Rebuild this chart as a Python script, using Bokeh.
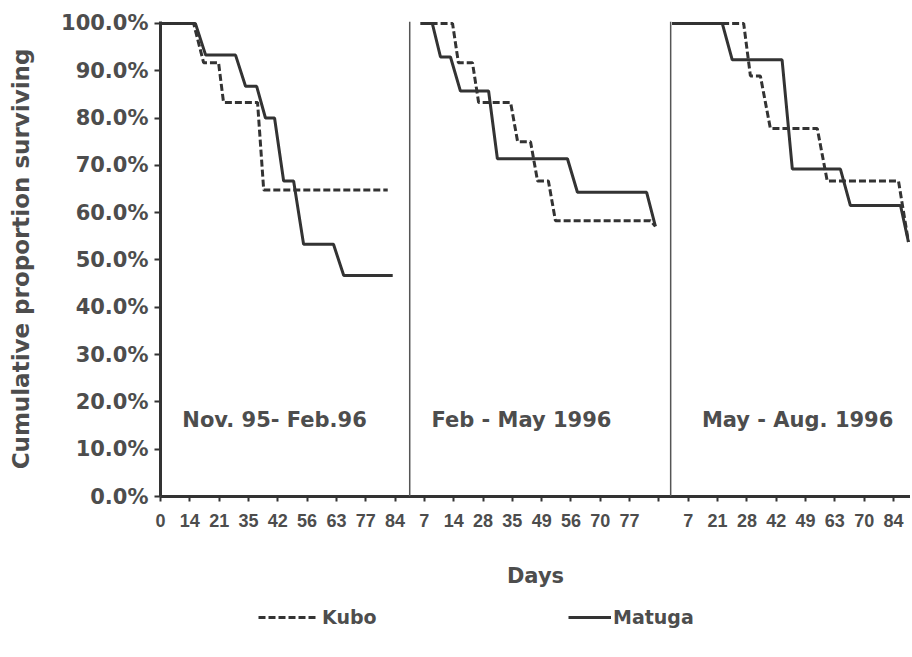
from bokeh.plotting import figure
from bokeh.layouts import column
from bokeh.models import (Range1d, FixedTicker, Label, Legend, LegendItem, Span)
from bokeh.embed import file_html
from bokeh.resources import INLINE

# ---------------- data (x in category-axis positions, y in %) ----------------
x_tick_labels = ["0", "14", "21", "35", "42", "56", "63", "77", "84",
                 "7", "14", "28", "35", "49", "56", "70", "77", "",
                 "7", "21", "28", "42", "49", "63", "70", "84"]
y_ticks = [0, 10, 20, 30, 40, 50, 60, 70, 80, 90, 100]
y_tick_labels = ["0.0%", "10.0%", "20.0%", "30.0%", "40.0%", "50.0%",
                 "60.0%", "70.0%", "80.0%", "90.0%", "100.0%"]

panel_titles = ["Nov. 95- Feb.96", "Feb - May 1996", "May - Aug. 1996"]
panel_title_x = [3.89, 12.31, 21.73]
panel_title_y = [16.1, 16.1, 16.1]
panel_breaks = [8.5, 17.4]

# Panel 1 (Nov. 95 - Feb. 96)
matuga1_x = [0, 1.19, 1.54, 2.56, 2.90, 3.28, 3.58, 3.89, 4.20, 4.54, 4.88, 5.90, 6.25, 7.92]
matuga1_y = [100, 100, 93.3, 93.3, 86.7, 86.7, 80.0, 80.0, 66.7, 66.7, 53.3, 53.3, 46.7, 46.7]
kubo1_x = [0, 1.13, 1.47, 1.98, 2.15, 3.31, 3.52, 7.75]
kubo1_y = [100, 100, 91.7, 91.7, 83.3, 83.3, 64.8, 64.8]

# Panel 2 (Feb - May 1996)
matuga2_x = [8.87, 9.27, 9.55, 9.89, 10.23, 11.19, 11.49, 13.88, 14.22, 16.58, 16.88]
matuga2_y = [100, 100, 92.9, 92.9, 85.7, 85.7, 71.4, 71.4, 64.3, 64.3, 57.1]
kubo2_x = [8.87, 9.96, 10.16, 10.64, 10.85, 11.94, 12.18, 12.62, 12.86, 13.23, 13.47, 16.71, 16.88]
kubo2_y = [100, 100, 91.7, 91.7, 83.3, 83.3, 75.0, 75.0, 66.7, 66.7, 58.3, 58.3, 57.1]

# Panel 3 (May - Aug. 1996)
matuga3_x = [17.45, 19.16, 19.50, 21.20, 21.55, 23.19, 23.53, 25.24, 25.51]
matuga3_y = [100, 100, 92.3, 92.3, 69.2, 69.2, 61.5, 61.5, 53.8]
kubo3_x = [17.45, 19.89, 20.12, 20.46, 20.80, 22.40, 22.74, 25.17, 25.51]
kubo3_y = [100, 100, 88.9, 88.9, 77.8, 77.8, 66.7, 66.7, 53.8]

series = [("Matuga", [(matuga1_x, matuga1_y), (matuga2_x, matuga2_y), (matuga3_x, matuga3_y)]),
          ("Kubo", [(kubo1_x, kubo1_y), (kubo2_x, kubo2_y), (kubo3_x, kubo3_y)])]

# ---------------- styling ----------------
TEXT = "#4d4d4d"
LINE = "#333333"
WIDE = "DejaVu Sans"
ARIAL = "Liberation Sans"
KUBO_DASH = "7 3"

p = figure(width=910, height=600, output_backend="svg", toolbar_location=None,
           x_range=Range1d(0, 25.58), y_range=Range1d(0, 100.4),
           min_border_left=160, min_border_right=0, min_border_top=21,
           min_border_bottom=104)
p.outline_line_color = None
p.xgrid.grid_line_color = None
p.ygrid.grid_line_color = None
p.background_fill_color = "white"
p.border_fill_color = "white"

# y axis
ya = p.yaxis[0]
ya.ticker = FixedTicker(ticks=y_ticks)
ya.major_label_overrides = {t: l for t, l in zip(y_ticks, y_tick_labels)}
ya.minor_tick_line_color = None
ya.major_tick_in = 0
ya.major_tick_out = 6
ya.major_tick_line_width = 2
ya.major_tick_line_color = LINE
ya.axis_line_width = 3
ya.axis_line_color = LINE
ya.major_label_standoff = 6
ya.major_label_text_font = WIDE
ya.major_label_text_font_style = "bold"
ya.major_label_text_font_size = "21px"
ya.major_label_text_color = TEXT
ya.axis_label = "Cumulative proportion surviving"
ya.axis_label_text_font = WIDE
ya.axis_label_text_font_style = "bold"
ya.axis_label_text_font_size = "23px"
ya.axis_label_text_color = TEXT
ya.axis_label_standoff = 24

# x axis
xa = p.xaxis[0]
xa.ticker = FixedTicker(ticks=list(range(len(x_tick_labels))))
xa.major_label_overrides = {i: l for i, l in enumerate(x_tick_labels)}
xa.minor_tick_line_color = None
xa.major_tick_in = 0
xa.major_tick_out = 5
xa.major_tick_line_width = 2
xa.major_tick_line_color = LINE
xa.axis_line_width = 3
xa.axis_line_color = LINE
xa.major_label_standoff = 12
xa.major_label_text_font = ARIAL
xa.major_label_text_font_style = "bold"
xa.major_label_text_font_size = "18px"
xa.major_label_text_color = TEXT
xa.axis_label = "Days"
xa.axis_label_text_font = WIDE
xa.axis_label_text_font_style = "bold"
xa.axis_label_text_font_size = "21px"
xa.axis_label_text_color = TEXT
xa.axis_label_standoff = 34

# panel dividers
for b in panel_breaks:
    p.add_layout(Span(location=b, dimension="height", line_color="#555555", line_width=1.5))

# curves
for name, parts in series:
    for (xs, ys) in parts:
        if name == "Kubo":
            p.line(xs, ys, line_color=LINE, line_width=3, line_dash=KUBO_DASH)
        else:
            p.line(xs, ys, line_color=LINE, line_width=3)

# panel titles
for t, x, y in zip(panel_titles, panel_title_x, panel_title_y):
    p.add_layout(Label(x=x, y=y, text=t, text_align="center", text_baseline="middle",
                       text_font=WIDE, text_font_style="bold", text_font_size="21px",
                       text_color=TEXT))

# ---------------- legend strip below the chart ----------------
lg_fig = figure(width=910, height=50, output_backend="svg", toolbar_location=None,
                x_range=Range1d(0, 1), y_range=Range1d(0, 1),
                min_border_left=0, min_border_right=0, min_border_top=0,
                min_border_bottom=0, x_axis_location=None, y_axis_location=None)
lg_fig.outline_line_color = None
lg_fig.xgrid.grid_line_color = None
lg_fig.ygrid.grid_line_color = None
lg_fig.border_fill_color = "white"

# key renderers kept outside the visible range: only their legend swatches show
key_x = [5, 6]
key_y = [5, 5]
kubo_key = lg_fig.line(key_x, key_y, line_color=LINE, line_width=3, line_dash=KUBO_DASH)
matuga_key = lg_fig.line(key_x, key_y, line_color=LINE, line_width=3)

def make_legend(name, rend, loc, gw, standoff):
    lg = Legend(items=[LegendItem(label=name, renderers=[rend])],
                location=loc, orientation="horizontal",
                glyph_width=gw, glyph_height=20, label_height=20,
                label_standoff=standoff, padding=0, margin=0, spacing=0,
                border_line_color=None, background_fill_alpha=0,
                label_text_font=WIDE, label_text_font_style="bold",
                label_text_font_size="19px", label_text_color=TEXT)
    lg_fig.add_layout(lg, "center")

make_legend("Kubo", kubo_key, (98, 22), 60, 4)
make_legend("Matuga", matuga_key, (408, 22), 43, 2)

layout = column(p, lg_fig, spacing=0)
open("out.html", "w").write(file_html(layout, INLINE))
